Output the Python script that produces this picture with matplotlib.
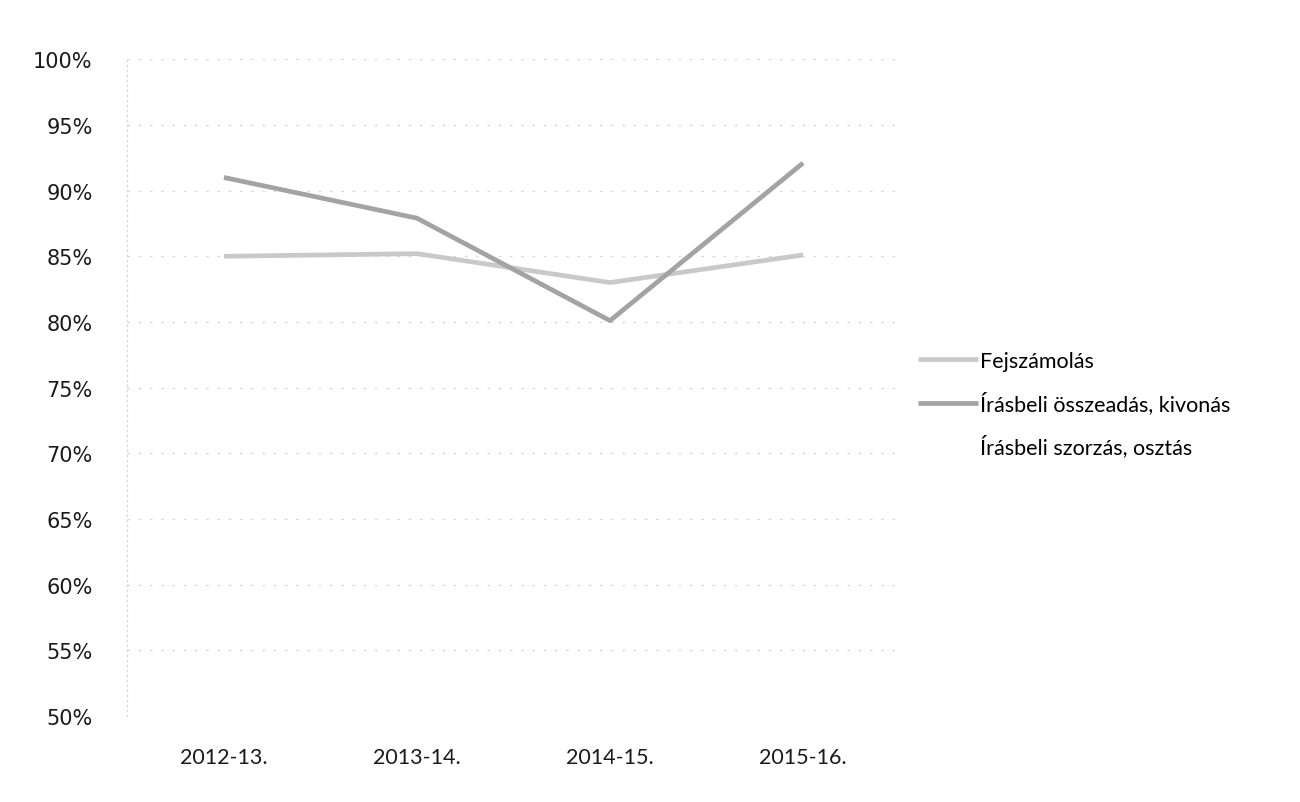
import matplotlib
matplotlib.use("Agg")
import matplotlib.pyplot as plt
import numpy as np

# Data
years = ["2012-13.", "2013-14.", "2014-15.", "2015-16."]
fejszamolas = [85.0, 85.2, 83.0, 85.1]
osszeadas_kivonas = [91.0, 87.9, 80.1, 92.1]
szorzas_osztas = [np.nan, np.nan, np.nan, np.nan]  # no line visible in the scan

series_names = ["Fejszámolás", "Írásbeli összeadás, kivonás", "Írásbeli szorzás, osztás"]
series_colors = ["#c9c9c9", "#a3a3a3", "white"]

FONT = ["Lato", "DejaVu Sans"]
GRID = "#d6d6d6"

fig = plt.figure(figsize=(13, 8.03), dpi=100, facecolor="white")
ax = fig.add_axes([0.098, 0.107, 0.594, 0.818])

x = np.arange(len(years))
for vals, name, col in zip([fejszamolas, osszeadas_kivonas, szorzas_osztas], series_names, series_colors):
    ax.plot(x, vals, color=col, linewidth=3.4, label=name, solid_capstyle="butt")

ax.set_xlim(-0.5, len(years) - 0.5)
ax.set_ylim(50, 100)
ax.set_yticks(np.arange(50, 101, 5))
ax.set_yticklabels([f"{v}%" for v in range(50, 101, 5)], family="DejaVu Sans", fontsize=15)
ax.set_xticks(x)
ax.set_xticklabels(years, family=FONT, fontsize=15.5)
ax.tick_params(axis="y", length=0, pad=25, colors="#1a1a1a")
ax.tick_params(axis="x", length=0, pad=22, colors="#1a1a1a")

ax.yaxis.grid(True, color=GRID, linewidth=0.9, linestyle=(0, (2, 7)))
ax.set_axisbelow(True)
for side in ["top", "right", "bottom"]:
    ax.spines[side].set_visible(False)
ax.spines["left"].set_color(GRID)
ax.spines["left"].set_linestyle((0, (1, 3)))
ax.spines["left"].set_linewidth(0.9)

fig.legend(loc="upper left", bbox_to_anchor=(0.706, 0.562), frameon=False,
           prop={"family": FONT, "size": 15.5}, handlelength=2.8,
           handletextpad=0.1, labelspacing=0.95, borderpad=0, borderaxespad=0)

fig.savefig("out.png", dpi=100, facecolor="white")
